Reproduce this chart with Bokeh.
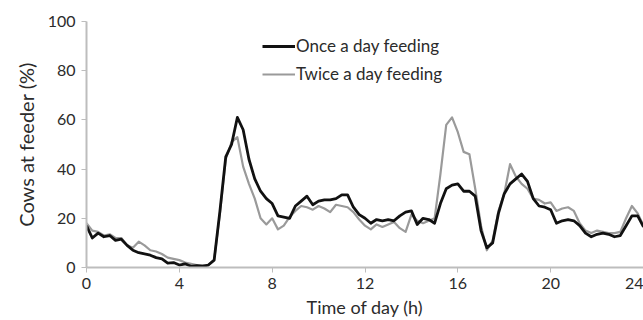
from bokeh.plotting import figure
from bokeh.models import Range1d, FixedTicker, Legend, LegendItem
from bokeh.embed import file_html
from bokeh.resources import INLINE
import numpy as np

# time of day sampled every quarter hour
hours = np.arange(0, 24.0001, 0.25)

once_a_day = [
    17, 12, 14, 12.5, 13, 11, 11.5, 9, 7, 6, 5.5, 5, 4, 3.5, 1.8, 2,
    1, 1.5, 0.5, 0.8, 0.5, 1, 3, 23, 45, 50, 61, 56, 44, 36, 31, 28,
    26, 21, 20.5, 20, 25, 27, 29, 25.5, 27, 27.5, 27.5, 28, 29.5, 29.5, 24.5, 21.5,
    20, 18, 19.5, 19, 19.5, 19, 21, 22.5, 23, 17.5, 20, 19.5, 18, 26, 32, 33.5,
    34, 31, 31, 29, 15, 8, 10, 22, 30, 34, 36, 38, 35, 28, 25, 24.5,
    23.5, 18, 19, 19.5, 19, 17, 14, 12.5, 13.5, 14, 13.5, 12.5, 13, 17, 21, 21,
    16.5,
]

twice_a_day = [
    18, 15, 14.5, 13, 13.5, 12, 12, 9, 8, 10.5, 9, 7, 6.5, 5.5, 4, 3.5,
    3, 2, 1.5, 1, 1, 1, 3, 22, 44, 51, 53, 41, 34, 28, 20, 17.5,
    20, 15.5, 17, 20.5, 23, 25, 24.5, 23.5, 25, 24, 22.5, 25.5, 25, 24.5, 22.5, 19.5,
    17, 15.5, 17.5, 16.5, 17.5, 18.5, 16, 14.5, 21.5, 19, 18, 19, 20, 38, 58, 61,
    55, 47, 46, 32, 17, 7, 11, 23, 30, 42, 37, 34, 32, 28, 27.5, 26,
    26.5, 23, 24, 24.5, 23, 18, 15, 14, 15, 14.5, 14, 14, 14.5, 20, 25, 22,
    17,
]

x_ticks = [0, 4, 8, 12, 16, 20, 24]
y_ticks = [0, 20, 40, 60, 80, 100]
series_names = ["Once a day feeding", "Twice a day feeding"]

FONT = "Lato"
TEXT = "#2b2b2b"

p = figure(width=643, height=320, output_backend="svg", toolbar_location=None,
           x_range=Range1d(0, 24), y_range=Range1d(0, 100),
           min_border_left=86, min_border_right=0, min_border_top=21,
           min_border_bottom=10)
p.outline_line_color = None
p.background_fill_color = "white"
p.xgrid.visible = False
p.ygrid.visible = False

r_twice = p.line(hours, twice_a_day, line_color="#9a9a9a", line_width=2.2,
                 line_join="round")
r_once = p.line(hours, once_a_day, line_color="#111111", line_width=2.8,
                line_join="round")

for ax in (p.xaxis[0], p.yaxis[0]):
    ax.axis_line_color = "#bdbdbd"
    ax.axis_line_width = 2
    ax.major_tick_line_color = "#bdbdbd"
    ax.major_tick_line_width = 1
    ax.major_tick_in = 0
    ax.major_tick_out = 5
    ax.minor_tick_line_color = None
    ax.major_label_text_font = FONT
    ax.major_label_text_font_size = "16px"
    ax.major_label_text_color = TEXT
    ax.axis_label_text_font = FONT
    ax.axis_label_text_font_style = "normal"
    ax.axis_label_text_color = TEXT

p.xaxis.ticker = FixedTicker(ticks=x_ticks)
p.yaxis.ticker = FixedTicker(ticks=y_ticks)
p.xaxis.axis_label = "Time of day (h)"
p.yaxis.axis_label = "Cows at feeder (%)"
p.xaxis.axis_label_text_font_size = "18px"
p.yaxis.axis_label_text_font_size = "20px"
p.xaxis.major_label_standoff = 5
p.xaxis.axis_label_standoff = 4
p.yaxis.major_label_standoff = 6
p.yaxis.axis_label_standoff = 7

legend = Legend(items=[LegendItem(label=series_names[0], renderers=[r_once]),
                       LegendItem(label=series_names[1], renderers=[r_twice])],
                location=(176, 183))
legend.margin = 0
legend.padding = 0
legend.spacing = 7
legend.glyph_width = 33
legend.glyph_height = 20
legend.label_height = 20
legend.label_standoff = 1
legend.border_line_alpha = 0
legend.background_fill_alpha = 0
legend.label_text_font = FONT
legend.label_text_font_size = "17px"
legend.label_text_color = TEXT
p.add_layout(legend, "center")

open("out.html", "w").write(file_html(p, INLINE))
